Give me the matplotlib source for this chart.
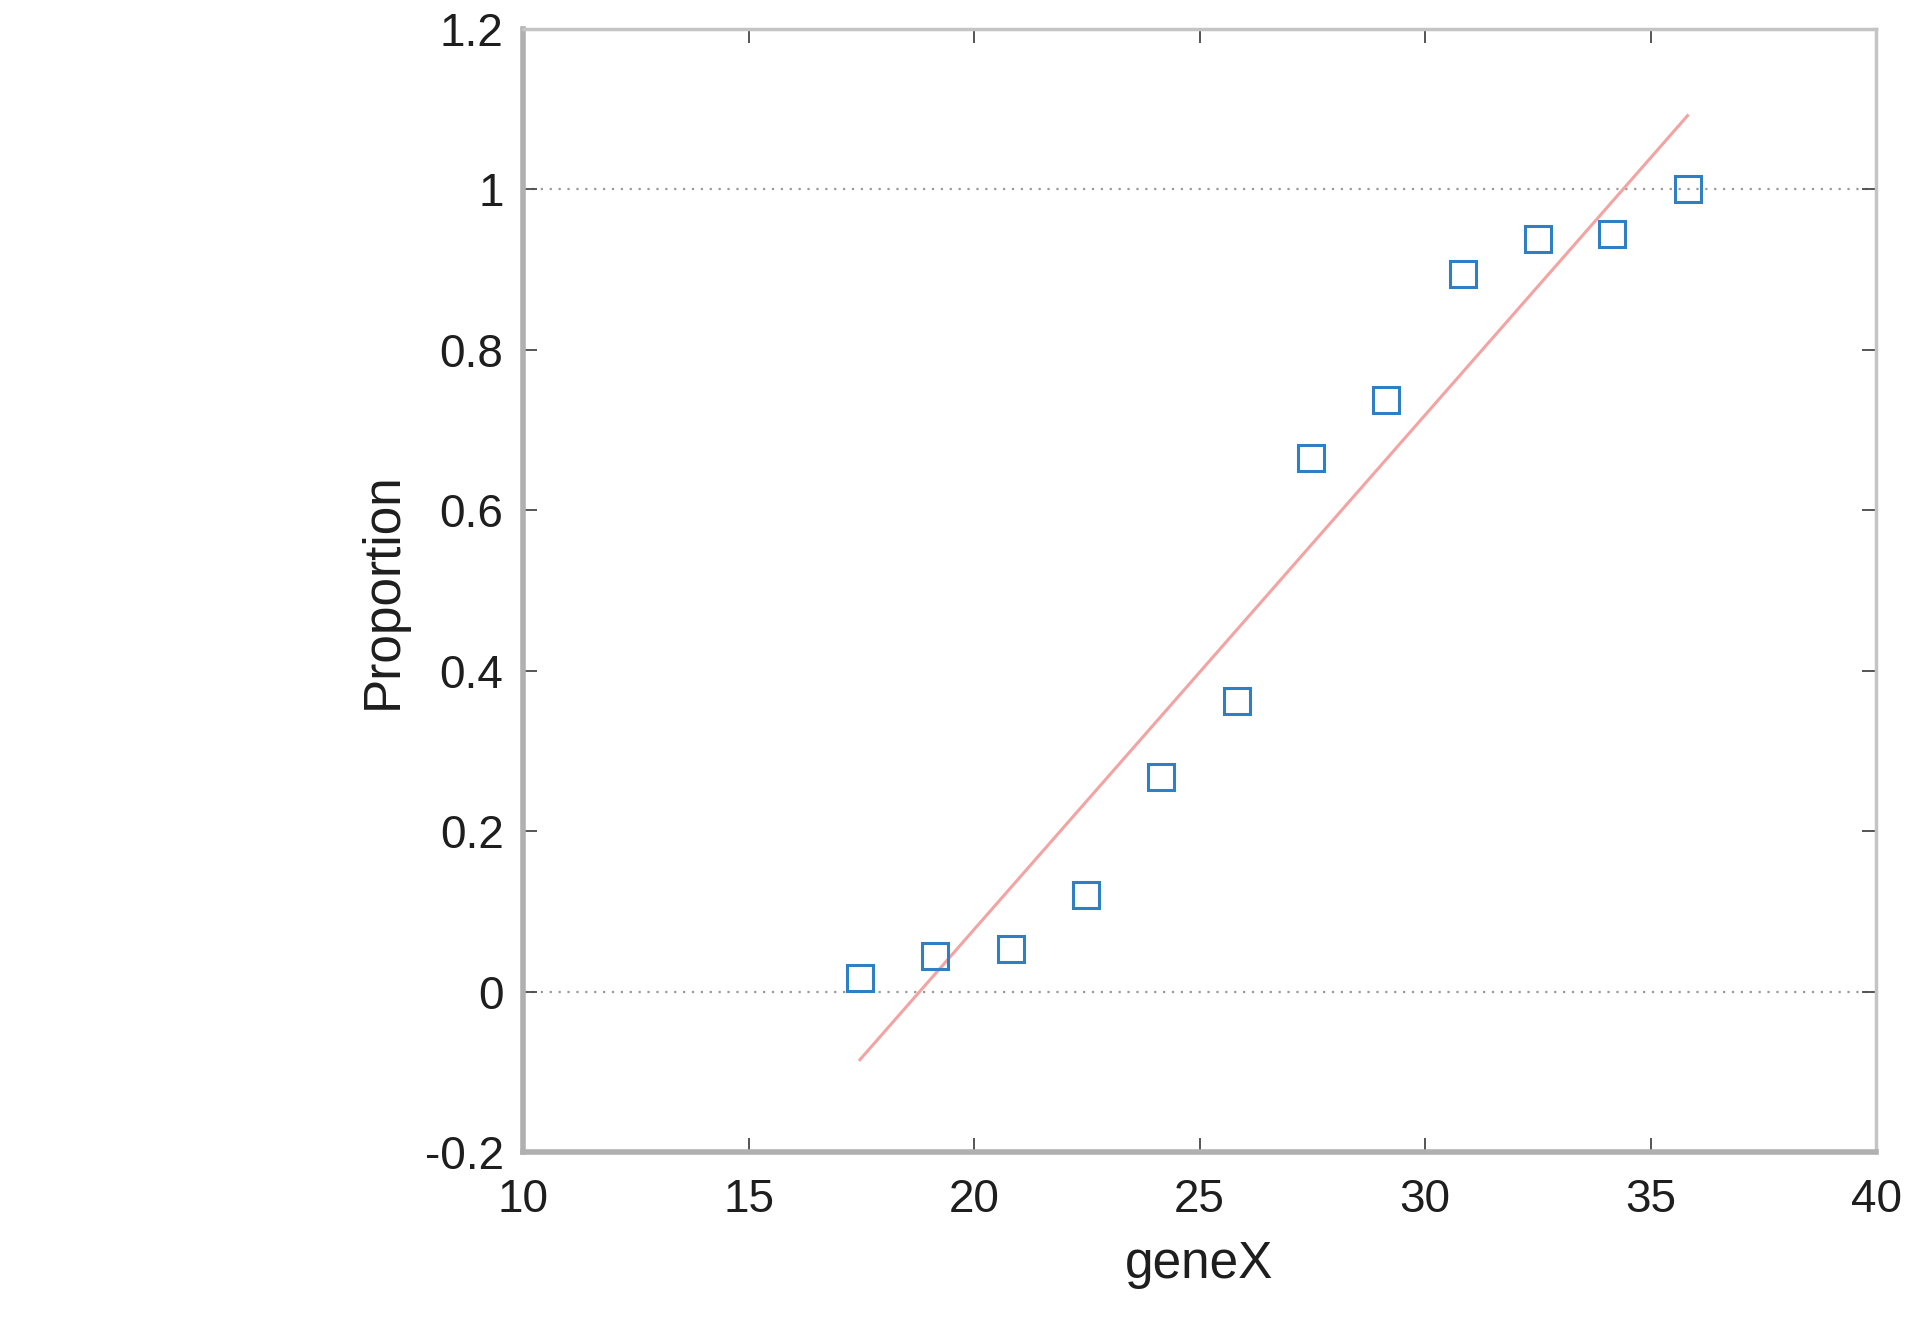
import numpy as np
import matplotlib
matplotlib.use("Agg")
import matplotlib.pyplot as plt
from matplotlib.ticker import FuncFormatter

# --- Data ---
gene_x = [17.47, 19.14, 20.81, 22.48, 24.15, 25.82, 27.47, 29.14, 30.84, 32.51, 34.15, 35.82]
proportion = [0.017, 0.044, 0.053, 0.120, 0.267, 0.362, 0.665, 0.738, 0.894, 0.938, 0.944, 1.000]
fit_x = [17.47, 35.82]
fit_y = [-0.085, 1.092]

x_ticks = [10, 15, 20, 25, 30, 35, 40]
y_ticks = [-0.2, 0, 0.2, 0.4, 0.6, 0.8, 1.0, 1.2]

plt.rcParams['font.family'] = ['Liberation Sans', 'DejaVu Sans']

fig = plt.figure(figsize=(19.06, 13.2), dpi=100)
ax = fig.add_axes([0.2744, 0.1273, 0.7099, 0.8507])

# reference lines at 0 and 1
for level in (0, 1):
    ax.axhline(level, color='#9a9a9a', linestyle=(0, (1, 3)), linewidth=1.6, zorder=1)

# fitted line
ax.plot(fit_x, fit_y, color='#f4a3a3', linewidth=2.2, zorder=2)

# empirical points
ax.plot(gene_x, proportion, linestyle='none', marker='s', markersize=19,
        markerfacecolor='none', markeredgecolor='#2f7fc4', markeredgewidth=2.2, zorder=3)

ax.set_xlim(10, 40)
ax.set_ylim(-0.2, 1.2)
ax.set_xticks(x_ticks)
ax.set_yticks(y_ticks)
fmt = FuncFormatter(lambda v, p: f'{v:g}')
ax.xaxis.set_major_formatter(fmt)
ax.yaxis.set_major_formatter(fmt)

ax.tick_params(direction='in', length=10, width=1.4, color='#555555',
               labelsize=33, labelcolor='#1e1e1e', top=True, right=True)
ax.tick_params(axis='x', pad=19)
ax.tick_params(axis='y', pad=14)

for side in ('left', 'bottom'):
    ax.spines[side].set_color('#b0b0b0')
    ax.spines[side].set_linewidth(4)
for side in ('top', 'right'):
    ax.spines[side].set_color('#c4c4c4')
    ax.spines[side].set_linewidth(2.5)

ax.set_xlabel('geneX', fontsize=37, color='#1e1e1e', labelpad=13)
ax.set_ylabel('Proportion', fontsize=37, color='#1e1e1e', labelpad=12)

fig.savefig('out.png', dpi=100, facecolor='white')
